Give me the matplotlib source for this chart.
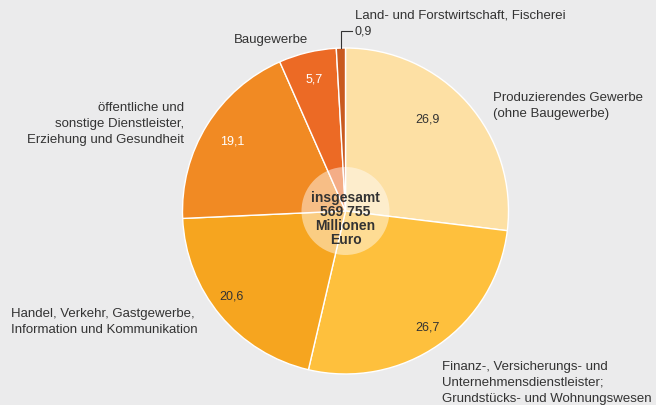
import matplotlib.pyplot as plt
from matplotlib.patches import Circle

plt.rcParams['font.family'] = ['Liberation Sans', 'DejaVu Sans']

# Bruttowertschöpfung nach Wirtschaftsbereichen, Anteile in %
sectors = ['Produzierendes Gewerbe\n(ohne Baugewerbe)',
           'Finanz-, Versicherungs- und\nUnternehmensdienstleister;\nGrundstücks- und Wohnungswesen',
           'Handel, Verkehr, Gastgewerbe,\nInformation und Kommunikation',
           'öffentliche und\nsonstige Dienstleister,\nErziehung und Gesundheit',
           'Baugewerbe',
           'Land- und Forstwirtschaft, Fischerei']
shares = [26.9, 26.7, 20.6, 19.1, 5.7, 0.9]
share_labels = ['26,9', '26,7', '20,6', '19,1', '5,7', '0,9']
total_text = 'insgesamt\n569 755\nMillionen\nEuro'

colors = ['#fde0a4', '#fec03d', '#f6a51f', '#f18a23', '#ec6a25', '#c95a1f']
value_colors = ['#333333', '#333333', '#333333', '#ffffff', '#ffffff', '#333333']
bg = '#ebebec'

W, H = 656, 406
fig = plt.figure(figsize=(W / 100, H / 100), dpi=100, facecolor=bg)
ax = fig.add_axes([0, 0, 1, 1])
ax.set_facecolor(bg)

cx, cy, r = 345.5, H - 212, 163
ax.pie(shares, startangle=90, counterclock=False, colors=colors,
       center=(cx, cy), radius=r,
       wedgeprops=dict(edgecolor='white', linewidth=1.0))
ax.add_patch(Circle((cx, cy), 44, facecolor='white', alpha=0.45,
                    edgecolor='none', zorder=3))
ax.text(cx, H - 219, total_text, ha='center', va='center', fontsize=10,
        fontweight='bold', color='#333333', linespacing=1.0, zorder=4)

# value labels inside the slices (pixel positions, y measured from top)
value_pos = [(428, 120), (428, 328), (231, 297), (232, 141), (314, 79)]
for (x, y), txt, c in zip(value_pos, share_labels[:5], value_colors[:5]):
    ax.text(x, H - y, txt, ha='center', va='center', fontsize=9, color=c, zorder=4)

# small slice gets a leader line
ax.plot([341, 341, 352], [H - 49, H - 32, H - 32], color='#333333', lw=0.8,
        zorder=4, solid_joinstyle='miter')
ax.text(355, H - 32, share_labels[5], ha='left', va='center', fontsize=9, color='#333333')

lab_kw = dict(fontsize=9.5, color='#333333', linespacing=1.4)
ax.text(493, H - 106, sectors[0], ha='left', va='center', **lab_kw)
ax.text(442, H - 383, sectors[1], ha='left', va='center', **lab_kw)
ax.text(11, H - 322, sectors[2], ha='left', va='center', **lab_kw)
ax.text(184, H - 124, sectors[3], ha='right', va='center', multialignment='right', **lab_kw)
ax.text(308, H - 40, sectors[4], ha='right', va='center', **lab_kw)
ax.text(355, H - 16, sectors[5], ha='left', va='center', **lab_kw)

ax.set_xlim(0, W)
ax.set_ylim(0, H)
ax.set_aspect('equal')
ax.axis('off')

fig.savefig('out.png', dpi=100, facecolor=bg)
